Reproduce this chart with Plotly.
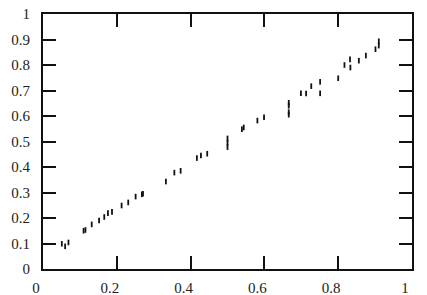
import plotly.graph_objects as go

x_vals = [0.051, 0.060, 0.069, 0.110, 0.115, 0.132, 0.152, 0.166, 0.176, 0.187,
          0.213, 0.231, 0.251, 0.268, 0.271, 0.333, 0.356, 0.373, 0.417, 0.428,
          0.445, 0.500, 0.500, 0.500, 0.539, 0.544, 0.581, 0.599, 0.666, 0.666,
          0.666, 0.666, 0.699, 0.713, 0.727, 0.751, 0.751, 0.800, 0.817, 0.832,
          0.833, 0.856, 0.875, 0.901, 0.910, 0.910]
y_vals = [0.099, 0.089, 0.104, 0.150, 0.153, 0.175, 0.190, 0.204, 0.219, 0.224,
          0.249, 0.261, 0.284, 0.293, 0.295, 0.343, 0.378, 0.385, 0.435, 0.445,
          0.452, 0.478, 0.495, 0.512, 0.548, 0.555, 0.582, 0.595, 0.605, 0.615,
          0.640, 0.652, 0.689, 0.688, 0.717, 0.734, 0.689, 0.748, 0.800, 0.822,
          0.790, 0.817, 0.837, 0.862, 0.876, 0.893]

x_ticks = [0, 0.2, 0.4, 0.6, 0.8, 1]
y_ticks = [0, 0.1, 0.2, 0.3, 0.4, 0.5, 0.6, 0.7, 0.8, 0.9, 1]

fig = go.Figure()
fig.add_trace(go.Scatter(
    x=x_vals, y=y_vals, mode="markers",
    marker=dict(symbol="line-ns", size=4, line=dict(width=1.8, color="#111111"), color="#111111"),
    showlegend=False, hoverinfo="skip",
))

axis_common = dict(
    range=[0, 1], showgrid=False, zeroline=False, automargin=False,
    showline=True, linecolor="#111111", linewidth=2,
    mirror="ticks", ticks="inside", ticklen=13, tickwidth=2, tickcolor="#111111",
    tickfont=dict(family="Liberation Serif, Times New Roman, serif", size=15, color="#222222"),
)

fig.update_layout(
    width=427, height=295,
    margin=dict(l=43, r=15, t=14, b=26),
    paper_bgcolor="white", plot_bgcolor="white",
    xaxis=dict(tickvals=x_ticks, ticklabelstandoff=4, ticklabelshift=-7, **axis_common),
    yaxis=dict(tickvals=y_ticks, ticklabelstandoff=8, **axis_common),
)

fig.write_html("out.html", config={"displayModeBar": False},
               post_script="document.body.style.margin='0';")
